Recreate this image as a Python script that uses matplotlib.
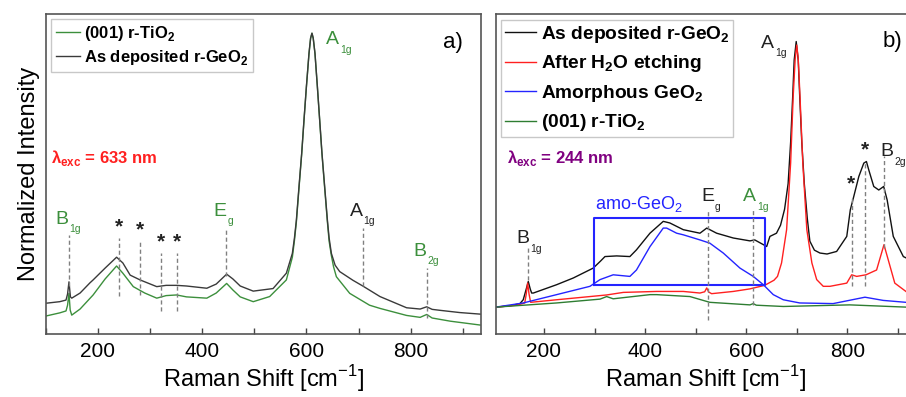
import matplotlib
matplotlib.use("Agg")
import matplotlib.pyplot as plt
from matplotlib.ticker import MultipleLocator, NullLocator

plt.rcParams["font.family"] = ["Liberation Sans", "DejaVu Sans"]
plt.rcParams["mathtext.fontset"] = "custom"
plt.rcParams["mathtext.rm"] = "Liberation Sans"
plt.rcParams["mathtext.bf"] = "Liberation Sans:bold"

# ---- panel a) 633 nm excitation ----
a_geo_x = [100, 127, 139, 142, 144.7, 147.5, 150, 166, 185, 191, 214, 236, 248, 262, 281, 313, 331,
           351, 370, 409, 427, 447, 459, 473, 498, 536, 561.5, 573, 577, 580.7, 585.7, 590.9, 595.3,
           599.9, 604.9, 608, 610.6, 613, 616.4, 621, 625.4, 629.8, 635, 640.2, 643.5, 647.8, 655,
           663.8, 689, 708, 741, 792, 818, 830.6, 841, 856, 894, 934]
a_geo_y = [0.096, 0.101, 0.106, 0.125, 0.163, 0.116, 0.112, 0.128, 0.160, 0.169, 0.206, 0.240, 0.222,
           0.184, 0.169, 0.148, 0.152, 0.152, 0.150, 0.143, 0.156, 0.187, 0.172, 0.150, 0.134, 0.142,
           0.190, 0.252, 0.300, 0.356, 0.460, 0.565, 0.669, 0.773, 0.877, 0.925, 0.940, 0.925, 0.877,
           0.773, 0.669, 0.565, 0.460, 0.356, 0.300, 0.252, 0.215, 0.195, 0.168, 0.150, 0.117, 0.082,
           0.078, 0.085, 0.077, 0.074, 0.067, 0.062]
a_tio_x = [100, 127, 139, 142, 144.7, 147, 150, 166, 191, 214, 236, 248, 268, 290, 313, 331, 351, 370,
           409, 427, 447, 459, 473, 498, 529.5, 561.5, 573, 577, 580.7, 585.7, 590.9, 595.3, 599.9,
           604.9, 608, 610.6, 613, 616.4, 621, 625.4, 629.8, 635, 640.2, 643.5, 647.8, 652, 657.4,
           683, 721, 741, 792, 818, 830.6, 841, 876, 933]
a_tio_y = [0.056, 0.066, 0.072, 0.090, 0.127, 0.075, 0.059, 0.078, 0.122, 0.172, 0.2125, 0.190, 0.148,
           0.128, 0.112, 0.120, 0.122, 0.116, 0.112, 0.128, 0.158, 0.1375, 0.116, 0.101, 0.117, 0.169,
           0.240, 0.292, 0.350, 0.455, 0.562, 0.667, 0.771, 0.876, 0.924, 0.940, 0.924, 0.876, 0.771,
           0.667, 0.562, 0.455, 0.350, 0.290, 0.245, 0.210, 0.179, 0.127, 0.090, 0.080, 0.058, 0.052,
           0.061, 0.050, 0.040, 0.028]

# ---- panel b) 244 nm excitation ----
b_geo_x = [105, 133, 152.5, 159, 164, 169, 173, 175.7, 179, 225, 258, 297.5, 312, 320.7, 343.8, 370,
           383, 409.7, 436, 449, 475.6, 508.6, 522, 541.6, 574.5, 607.5, 617, 640.6, 647, 660, 668,
           676, 683, 688, 692, 695, 699, 703, 706, 710, 715, 721, 726, 735, 746, 760, 779, 799, 806,
           812.9, 822.8, 832.7, 837.9, 842.5, 852.4, 862.3, 872, 878.9, 891, 910.9, 920]
b_geo_y = [0.084, 0.088, 0.095, 0.107, 0.135, 0.164, 0.140, 0.128, 0.128, 0.154, 0.175, 0.206, 0.228,
           0.242, 0.244, 0.242, 0.263, 0.315, 0.352, 0.347, 0.326, 0.315, 0.331, 0.315, 0.300, 0.291,
           0.294, 0.2735, 0.305, 0.315, 0.340, 0.390, 0.470, 0.600, 0.740, 0.856, 0.914, 0.856, 0.740,
           0.600, 0.470, 0.360, 0.290, 0.262, 0.253, 0.250, 0.258, 0.305, 0.388, 0.430, 0.492, 0.534,
           0.539, 0.513, 0.461, 0.450, 0.461, 0.419, 0.305, 0.242, 0.235]
b_etch_x = [105, 146, 162, 165, 167.7, 170.5, 173.7, 225, 291, 324, 357, 423, 475.6, 508.6, 518, 522,
            526, 531.7, 574.5, 607.5, 634, 640, 655, 662, 670, 680, 688, 693, 697, 700, 703, 706.5,
            712, 720, 730, 739.5, 752.5, 765.8, 799, 808.7, 818.6, 837, 858, 872.6, 881, 894, 916]
b_etch_y = [0.084, 0.090, 0.097, 0.125, 0.159, 0.125, 0.099, 0.107, 0.117, 0.122, 0.130, 0.133, 0.133,
            0.128, 0.132, 0.144, 0.131, 0.126, 0.133, 0.141, 0.151, 0.155, 0.168, 0.180, 0.222, 0.326,
            0.535, 0.742, 0.860, 0.903, 0.860, 0.742, 0.535, 0.326, 0.222, 0.170, 0.149, 0.149, 0.159,
            0.185, 0.180, 0.185, 0.200, 0.279, 0.232, 0.159, 0.133]
b_amo_x = [105, 159, 225, 291, 311, 337, 370, 383, 409.7, 436, 442.7, 462.5, 475.6, 508.6, 528, 554.7,
           587.7, 614, 634, 653.6, 673.4, 706, 772, 835, 871, 916]
b_amo_y = [0.084, 0.097, 0.123, 0.149, 0.170, 0.185, 0.180, 0.200, 0.273, 0.331, 0.331, 0.315, 0.310,
           0.294, 0.284, 0.253, 0.206, 0.180, 0.154, 0.123, 0.107, 0.097, 0.095, 0.115, 0.105, 0.099]
b_tio_x = [105, 225, 311, 324, 337, 409.7, 423, 488.8, 528, 607.5, 614, 620, 673.4, 805, 916]
b_tio_y = [0.084, 0.097, 0.109, 0.117, 0.110, 0.123, 0.123, 0.117, 0.099, 0.091, 0.095, 0.090, 0.086,
           0.091, 0.084]

# amorphous region box (x range, y range)
amo_box_x = [299, 637]
amo_box_y = [0.152, 0.364]

GREEN = "#3c8f3c"
GRAY_DASH = "#808080"


def mode_label(ax, x, y, main, sub, color, size=14):
    t = ax.text(x, y, main, color=color, fontsize=size, ha="left", va="baseline")
    ax.annotate(sub, xy=(1, 0), xycoords=t, xytext=(0.5, -3.5), textcoords="offset points",
                color=color, fontsize=7.5, ha="left", va="baseline")


def vdash(ax, x, y0, y1):
    ax.plot([x, x], [y0, y1], color=GRAY_DASH, lw=1.0, ls=(0, (3, 2)))


def style_axes(ax, xlim):
    ax.set_xlim(*xlim)
    ax.set_ylim(0, 1)
    ax.xaxis.set_major_locator(MultipleLocator(200))
    ax.xaxis.set_minor_locator(MultipleLocator(100))
    ax.yaxis.set_major_locator(NullLocator())
    ax.tick_params(axis="x", which="both", direction="in", length=4, width=1, color="#444444",
                   labelsize=15, pad=6)
    for sp in ax.spines.values():
        sp.set_color("#555555")
        sp.set_linewidth(1.2)
    ax.set_xlabel(r"Raman Shift [cm$^{\mathregular{-1}}$]", fontsize=17, labelpad=1)


def style_legend(leg):
    leg.get_frame().set_edgecolor("#bbbbbb")
    leg.get_frame().set_linewidth(1.0)
    for txt in leg.get_texts():
        txt.set_fontweight("bold")


fig = plt.figure(figsize=(9.06, 3.97), dpi=100)
ax1 = fig.add_axes([0.0504, 0.1587, 0.4801, 0.806])
ax2 = fig.add_axes([0.5471, 0.1587, 0.4634, 0.806])

# panel a
ax1.plot(a_tio_x, a_tio_y, color=GREEN, lw=1.0, label=r"(001) r-TiO$_{\mathbf{2}}$")
ax1.plot(a_geo_x, a_geo_y, color="#3a3a3a", lw=1.0, label=r"As deposited r-GeO$_{\mathbf{2}}$")
style_axes(ax1, (100, 934))
ax1.set_ylabel("Normalized Intensity", fontsize=17, labelpad=4)
leg1 = ax1.legend(loc="upper left", fontsize=12, frameon=True, fancybox=False, handlelength=1.45,
                  handletextpad=0.25, labelspacing=0.3, borderaxespad=0.3, borderpad=0.3)
style_legend(leg1)

for xs, y0, y1 in [(144, 0.15, 0.31), (241, 0.118, 0.30), (280, 0.122, 0.29),
                   (322, 0.072, 0.253), (352, 0.072, 0.253), (446, 0.18, 0.33),
                   (708, 0.15, 0.33), (832, 0.05, 0.206)]:
    vdash(ax1, xs, y0, y1)
for xs, ys in [(241, 0.305), (280, 0.295), (322, 0.258), (352, 0.258)]:
    ax1.text(xs, ys, "*", fontsize=15, fontweight="bold", ha="center", va="bottom", color="#222222")
mode_label(ax1, 119, 0.345, "B", "1g", GREEN)
mode_label(ax1, 422, 0.37, "E", "g", GREEN)
mode_label(ax1, 638, 0.905, "A", "1g", GREEN)
mode_label(ax1, 683, 0.37, "A", "1g", "#222222")
mode_label(ax1, 806, 0.245, "B", "2g", GREEN)
ax1.text(862, 0.895, "a)", fontsize=16, ha="left", va="baseline")
ax1.text(110, 0.535, r"$\mathregular{\lambda}_{\mathregular{exc}}$ = 633 nm", color="#ff2020",
         fontsize=12, fontweight="bold", ha="left", va="baseline")

# panel b
ax2.plot(b_geo_x, b_geo_y, color="#111111", lw=1.0, label=r"As deposited r-GeO$_{\mathbf{2}}$")
ax2.plot(b_etch_x, b_etch_y, color="#ff2020", lw=1.0, label=r"After H$_{\mathbf{2}}$O etching")
ax2.plot(b_amo_x, b_amo_y, color="#2424ff", lw=1.0, label=r"Amorphous GeO$_{\mathbf{2}}$")
ax2.plot(b_tio_x, b_tio_y, color="#2e7d32", lw=1.0, label=r"(001) r-TiO$_{\mathbf{2}}$")
ax2.plot([amo_box_x[0], amo_box_x[1], amo_box_x[1], amo_box_x[0], amo_box_x[0]],
         [amo_box_y[0], amo_box_y[0], amo_box_y[1], amo_box_y[1], amo_box_y[0]],
         color="#2424ff", lw=1.5)
style_axes(ax2, (104.5, 935))
leg2 = ax2.legend(loc="upper left", fontsize=13.8, frameon=True, fancybox=False, handlelength=1.6,
                  handletextpad=0.25, labelspacing=0.45, borderaxespad=0.3, borderpad=0.2)
style_legend(leg2)

for xs, y0, y1 in [(168, 0.17, 0.27), (525, 0.045, 0.388), (614, 0.092, 0.388),
                   (808.7, 0.149, 0.425), (836, 0.149, 0.534), (872, 0.27, 0.555)]:
    vdash(ax2, xs, y0, y1)
ax2.text(807, 0.44, "*", fontsize=15, fontweight="bold", ha="center", va="bottom", color="#222222")
ax2.text(835, 0.545, "*", fontsize=15, fontweight="bold", ha="center", va="bottom", color="#222222")
mode_label(ax2, 145, 0.285, "B", "1g", "#222222")
mode_label(ax2, 511, 0.415, "E", "g", "#222222")
mode_label(ax2, 594, 0.415, "A", "1g", GREEN)
mode_label(ax2, 630, 0.895, "A", "1g", "#222222")
mode_label(ax2, 866, 0.555, "B", "2g", "#222222")
ax2.text(300, 0.39, r"amo-GeO$_{\mathregular{2}}$", color="#2424ff", fontsize=13,
         ha="left", va="baseline")
ax2.text(870, 0.897, "b)", fontsize=16, ha="left", va="baseline")
ax2.text(126, 0.535, r"$\mathregular{\lambda}_{\mathregular{exc}}$ = 244 nm", color="#800080",
         fontsize=12, fontweight="bold", ha="left", va="baseline")

fig.savefig("out.png", dpi=100)
